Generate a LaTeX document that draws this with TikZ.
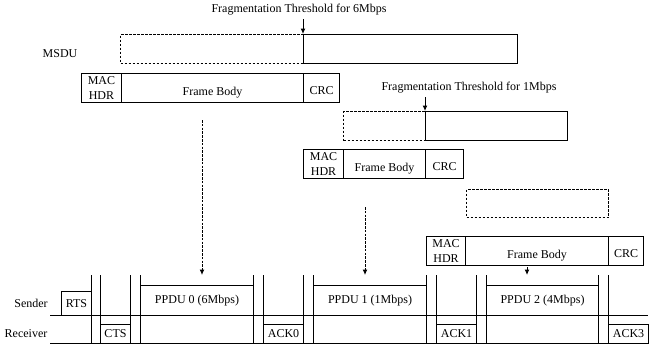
\documentclass[tikz,border=0pt]{standalone}
\usepackage{fontspec}
\setmainfont{Liberation Serif}
\usepackage{tikz}
\usetikzlibrary{positioning}
\usetikzlibrary{calc}
\usetikzlibrary{arrows.meta}
\tikzset{every picture/.style={line width=1pt}}
\newcommand{\low}[1]{\raisebox{-3pt}[\height][0pt]{#1}}

\begin{document}
\begin{tikzpicture}[x=1pt, y=-1pt,
every node/.style={font=\fontsize{12}{15}\selectfont},
field/.style={draw, inner sep=0pt, anchor=north west, minimum height=29pt, align=center},
gone/.style={field, dash pattern=on 2.5pt off 1.5pt},
tip/.style={-{Latex[length=5.5pt,width=5pt]}},
dasharrow/.style={tip, dash pattern=on 2.5pt off 1.3pt, shorten >=10pt}]

\useasboundingbox (0,0) rectangle (652,349);

% MSDU and its three fragments
\node (msdu) at (60,54) {MSDU};
\node[gone, minimum width=183pt] (m1a) at (120,34) {};
\node[field, minimum width=214pt] (m1b) at (303,34) {};
\node[gone, minimum width=82pt] (m2a) at (343,111) {};
\node[field, minimum width=142pt] (m2b) at (425,111) {};
\node[gone, minimum width=142pt, minimum height=28pt] (m3a) at (466,189) {};

\node (thr6) at (299,10) {Fragmentation Threshold for 6Mbps};
\node (thr1) at (469,88) {Fragmentation Threshold for 1Mbps};
\draw[tip] (m1b.north west |- thr6.south) -- (m1b.north west);
\draw[tip] (m2b.north west |- thr1.south) -- (m2b.north west);

% fragment 0
\node[field, minimum width=40pt] (hdr0) at (81,73) {MAC\\HDR};
\node[field, minimum width=182pt] (body0) at (121,73) {\low{Frame Body}};
\node[field, minimum width=36pt] (crc0) at (303,73) {\low{CRC}};
% fragment 1
\node[field, minimum width=40pt] (hdr1) at (303,149) {MAC\\HDR};
\node[field, minimum width=82pt] (body1) at (343,149) {\low{Frame Body}};
\node[field, minimum width=38pt] (crc1) at (425,149) {\low{CRC}};
% fragment 2
\node[field, minimum width=39pt] (hdr2) at (426,236) {MAC\\HDR};
\node[field, minimum width=143pt] (body2) at (465,236) {\low{Frame Body}};
\node[field, minimum width=35pt] (crc2) at (608,236) {\low{CRC}};

% time line
\node (snd) at (31,303) {Sender};
\node (rcv) at (26,334) {Receiver};
\draw (50,315) -- (648,315);
\draw (50,343) -- (648,343);
\foreach \x in {91,100,130,140,253,263,303,313,426,436,476,486,598,608}
{ \draw (\x,275) -- (\x,343); }

\node[field, minimum width=30pt, minimum height=24pt] (rts) at (61,291) {RTS};
\node[field, minimum width=113pt, minimum height=30pt] (ppdu0) at (140,285) {PPDU 0 (6Mbps)};
\node[field, minimum width=113pt, minimum height=30pt] (ppdu1) at (313,285) {PPDU 1 (1Mbps)};
\node[field, minimum width=112pt, minimum height=30pt] (ppdu2) at (486,285) {PPDU 2 (4Mbps)};

\node[field, minimum width=30pt, minimum height=19pt] (cts) at (100,324) {CTS};
\node[field, minimum width=40pt, minimum height=19pt] (ack0) at (263,324) {ACK0};
\node[field, minimum width=40pt, minimum height=19pt] (ack1) at (436,324) {ACK1};
\node[field, minimum width=40pt, minimum height=19pt] (ack3) at (608,324) {ACK3};

% fragments into PPDUs
\coordinate (d0) at (202,120);
\coordinate (d1) at (365,207);
\coordinate (d2) at (527,267);
\draw[dasharrow] (d0) -- (d0 |- ppdu0.north);
\draw[dasharrow] (d1) -- (d1 |- ppdu1.north);
\draw[dasharrow] (d2) -- (d2 |- ppdu2.north);

\end{tikzpicture}
\end{document}
